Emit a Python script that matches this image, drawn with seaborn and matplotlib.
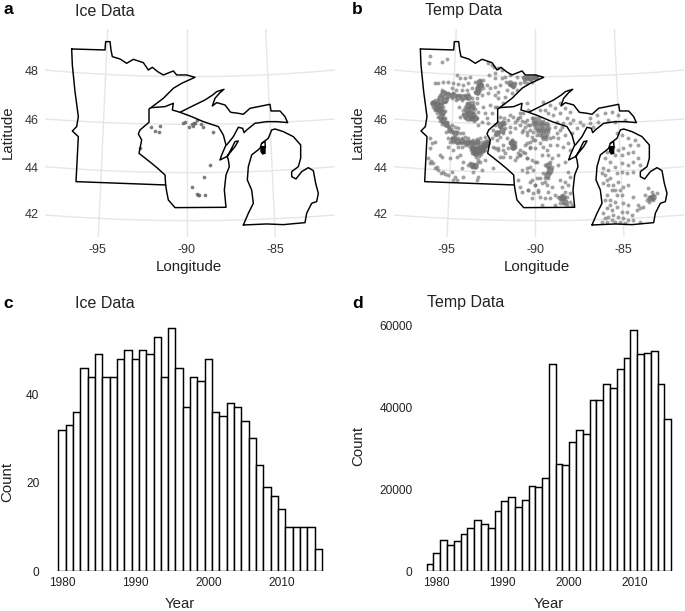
#!/usr/bin/env python3
import numpy as np
import pandas as pd
import matplotlib
matplotlib.use("Agg")
import matplotlib.pyplot as plt
import seaborn as sns

W, H = 685, 611

# state outlines, map units (3 units = 1 pixel)
minnesota = [(215,147),(315,150),(317,125),(330,125),(333,150),(337,170),(360,177),(380,190),(400,178),(430,188),(445,210),
             (457,202),(473,215),(490,225),(520,213),(530,225),(560,225),(585,232),(545,250),(520,265),(490,295),(453,323),
             (447,327),(447,367),(420,390),(415,402),(425,420),(417,460),(455,490),(473,505),(495,525),(497,555),(228,545),
             (235,410),(217,393),(230,380),(235,350),(225,275),(217,195),(215,147)]
wisconsin = [(453,323),(495,320),(520,310),(517,330),(540,337),(570,348),(610,365),(655,380),(670,405),(678,435),
             (665,465),(660,480),(680,470),(705,440),(715,423),(705,425),(695,445),(682,470),(685,480),(688,500),(678,525),
             (673,570),(678,622),(525,623),(505,600),(500,575),(497,555)]
upper_mi = [(540,337),(580,317),(615,300),(638,285),(650,275),(672,268),(660,278),(645,295),(637,318),(650,308),
            (675,315),(692,337),(715,340),(730,343),(750,325),(775,320),(810,313),(813,333),(840,333),(855,350),
            (863,368),(830,365),(800,365),(765,370),(740,390),(732,398),(728,385),(715,382),(708,395),(700,410),(680,435)]
lower_mi = [(730,675),(745,640),(760,610),(755,570),(742,540),(745,500),(755,465),(780,445),(785,430),(805,415),(815,390),
            (825,387),(850,395),(880,410),(902,435),(902,475),(895,500),(875,515),(875,530),(888,537),(905,515),(925,503),
            (940,512),(947,550),(955,580),(950,605),(935,610),(920,640),(915,668),(850,674),(800,672),(730,675)]
lake_blob = [(783,440),(795,440),(795,460),(788,462),(783,455),(783,440)]
lake_line = [(785,430),(795,425),(796,442)]

# graticule
lat_ticks = [48, 46, 44, 42]
lat_edge = [210, 357, 500, 645]
lat_mid = [230, 373, 518, 662]
lat_label_y = [212, 358, 502, 642]
lon_ticks = [-95, -90, -85]
lon_top = [323, 560, 797]
lon_bottom = [295, 560, 826]
lon_label_x = [293, 560, 825]

# ice stations
ice_x = [452,465,476,479,421,550,555,568,575,578,582,585,590,603,608,640,630,612,575,590,594,597,616]
ice_y = [380,393,395,378,445,368,365,381,372,378,370,368,360,372,380,396,494,532,560,583,586,586,584]

# temperature stations, west half of panel b
temp_west = [
    (30,62),(28,83),(65,82),(82,72),
    (205,85),(215,90),(222,95),(235,100),(245,105),(207,120),(225,115),(255,125),(270,120),(245,130),(225,130),(290,125),
    (310,125),(325,125),(340,125),(350,125),(318,130),(330,132),(345,130),(312,140),(322,145),(335,140),(300,145),(285,145),
    (270,150),(280,155),(258,140),(240,150),(225,155),(235,170),(260,165),(290,165),(275,175),(255,185),(235,190),(248,205),(230,215),
    (45,145),(55,145),(70,140),(85,142),(110,120),(120,130),(135,128),(150,125),(100,145),(115,148),(130,150),(145,145),
    (165,140),(180,135),(190,135),(175,150),(185,150),(170,160),(180,165),(190,160),(165,170),(175,175),(185,180),(200,150),
    (210,160),(205,175),(225,180),(95,160),(108,165),(125,165),(140,165),(155,160),
    (65,165),(75,170),(85,175),(100,175),(110,180),(120,180),(135,180),(145,178),(70,185),(60,180),(80,190),(95,190),
    (108,195),(125,195),(140,190),(155,190),(170,190),(45,195),(38,200),(55,195),(65,200),(75,200),
    (35,205),(45,205),(55,205),(65,205),(40,215),(50,215),(60,215),(70,215),(45,225),(55,225),(65,225),(75,228),(50,235),
    (60,235),(70,238),(55,245),(65,248),(75,250),(60,258),(70,260),(80,260),(65,268),(78,270),(88,272),
    (150,200),(160,200),(140,205),(150,210),(160,210),(170,205),(135,215),(145,220),(155,220),(165,222),(130,225),(140,230),
    (150,230),(160,232),(175,230),(130,238),(140,240),(150,242),(160,245),(170,248),(135,250),(150,252),(162,258),(120,245),
    (118,215),(190,215),(210,210),(225,215),(195,235),(215,235),(200,250),(185,260),(175,270),(205,265),
    (85,275),(95,270),(105,275),(115,280),(90,285),(100,290),(110,290),(120,295),(130,295),(78,290),(85,310),(95,310),
    (105,305),(115,310),(125,310),(135,305),(145,310),(90,320),(100,320),(110,325),(120,325),(130,320),(140,320),(150,318),
    (160,315),(170,312),(180,310),(195,305),(115,335),(125,335),(135,330),(145,330),(155,325),(165,325),(175,322),(185,320),
    (195,318),(205,315),
    (150,335),(158,338),(166,335),(174,332),(182,330),(190,328),(198,325),(204,322),(152,345),(160,348),(168,345),(176,342),
    (184,340),(192,337),(200,333),(156,355),(164,358),(172,355),(180,352),(188,348),(196,344),(168,365),(176,362),(184,358),
    (155,340),(163,342),(171,340),(179,337),(187,334),(195,330),(160,352),(168,352),(176,349),(184,346),
    (30,310),(35,325),(30,340),(45,320),(60,360),(65,365),(85,335),(98,345),(110,365),(120,360),(130,380),(90,370),(25,370),
    (32,378),(40,385),(50,395),(55,405),(70,410),(85,420),(30,385),(45,400),(62,415),(75,418),(95,410),(105,425),(110,435),
    (100,435),(125,400),(130,425),(170,435),(175,425),(160,410),(150,385),(160,390),(170,385),(155,395),(165,395),(175,375),
    (180,380),(145,390),(185,405),(220,400),(195,375),(235,345),(225,340),(250,345),(250,365),(240,365),
    (240,245),(252,250),(270,240),(300,235),(280,245),(295,250),(265,255),(285,262),(305,258),(320,255),(235,260),(250,265),
    (225,270),(240,275),(255,280),(270,275),(285,280),(300,270),(315,275),(330,270),(220,285),(235,290),(250,295),(270,290),
    (225,300),(240,305),(215,310),(230,315),(260,310),(275,315),(285,320),(270,325),(280,330),(275,340),(285,335),(320,325),
    (330,320),(340,315),(310,285),(320,290),(340,290),(350,300),(300,345),(315,355),(330,340),(290,365),(300,360),(320,370),
    (345,380),(330,395),(320,400),(350,430),(330,440),(345,450),(325,465),(355,470),(375,440),(385,470),
]

# temperature stations, east half of panel b
temp_east = [
    (130,85),(138,85),(146,85),(128,92),(135,92),(142,92),(150,92),(158,92),(128,99),(135,99),(142,99),(149,99),(156,99),
    (163,99),(170,99),(132,106),(139,106),(146,106),(153,106),(160,106),(167,106),(174,106),(135,113),(142,113),(149,113),
    (156,113),(163,113),(170,113),(178,113),(140,120),(147,120),(154,120),(161,120),(168,120),(175,120),(145,127),(152,127),
    (159,127),(166,127),(173,127),(150,134),(157,134),(164,134),(171,134),(155,141),(162,141),(169,141),(160,148),(168,148),
    (110,40),(115,60),(125,85),(100,70),(90,80),(80,90),(105,95),(115,105),(120,120),(95,125),(110,135),(125,140),(135,150),
    (150,160),(180,145),(190,140),(200,130),(210,120),(195,110),(215,110),(205,145),(225,135),(235,160),(220,170),(240,180),
    (200,165),(180,165),(160,170),(135,175),(120,170),(105,165),(100,185),(85,190),(65,150),(70,160),(60,155),(75,165),(70,175),
    (55,175),(40,165),(25,175),(10,170),(45,190),(60,200),(75,210),(90,195),(110,205),(125,210),(140,215),(155,195),(170,180),
    (175,195),(185,205),(180,215),(165,225),(175,235),(185,230),(170,245),(180,250),(160,250),(150,265),(165,265),(175,265),
    (155,280),(170,285),(185,290),(125,270),(135,285),(145,300),(115,300),(95,305),(85,270),(90,290),(130,310),(150,320),
    (165,325),(195,315),(210,270),(235,245),(225,275),(235,285),(215,290),(225,305),(215,315),(205,320),(212,328),(222,325),
    (232,320),(240,310),(210,340),(220,340),(230,345),(240,335),(245,345),(195,345),(180,325),(125,325),(155,345),(240,260),
    (205,225),(225,215),(205,195),(130,240),(110,245),(95,240),
    (160,35),(180,45),(195,55),(210,40),(225,55),(240,65),(190,75),(175,70),(150,60),(165,60),(210,70),(230,85),(250,90),
    (270,95),(300,85),(320,75),(345,70),(365,65),(385,75),(355,90),(325,95),(300,100),(280,105),(240,100),(220,100),(200,95),
    (260,115),(245,130),(310,110),(375,95),(405,90),
    (380,130),(395,135),(415,145),(435,150),(445,165),(420,165),(400,175),(385,180),(370,170),(350,185),(345,205),(360,215),
    (375,195),(395,195),(415,190),(430,185),(445,205),(430,215),(415,225),(395,220),(375,230),(355,240),(340,235),(335,250),
    (345,255),(350,270),(360,265),(380,250),(395,245),(410,250),(430,245),(450,225),(340,280),(355,285),(370,285),(385,275),
    (400,290),(415,285),(365,300),(375,300),(390,300),(380,315),(395,315),(430,320),(350,315),(345,330),(360,330),(375,335),
    (400,340),(415,345),(445,345),(460,350),(470,330),(480,320),(490,330),(478,335),(490,315),(475,295),(485,305),(500,310),
    (465,315),(360,345),(350,355),(365,360),(380,350),(395,365),(410,365),(425,375),(440,360),(450,355),(340,370),(345,385),
    (355,380),(370,375),(385,380),(400,385),(415,390),(335,395),(350,395),(365,390),(375,395),(390,395),(405,400),(430,390),
    (450,395),
]

# heavier clusters where stations pile up in panel b
temp_dense_west = [
    (40,205),(50,208),(60,210),(47,218),(57,222),(65,232),(62,245),(70,255),(78,268),(90,285),(105,295),(98,312),(110,318),
    (125,318),(140,322),(155,325),(170,320),(70,175),(85,180),(100,180),(115,185),(130,185),(145,185),(175,160),(180,150),
    (170,170),(178,140),(60,190),(75,195),(145,210),(155,215),(140,225),(150,235),(160,240),(135,240),(145,248),(155,250),
    (165,250),(160,340),(170,345),(180,340),(190,335),(165,355),(175,350),(185,345),(195,330),(200,325),(155,390),(165,392),
    (315,130),(330,128),(345,127),(280,150),(270,145),(240,270),(230,295),(250,265),(275,325),(280,335),(245,285),
]
temp_dense_east = [(175,225),(180,240),(170,255),(212,325),(225,335),(220,320),(480,325),(490,320)]

# yearly counts
ice_counts = [32,33,36,46,44,49,44,44,48,50,48,50,49,53,44,55,46,37,44,43,48,36,35,38,37,34,30,24,19,17,14,10,10,10,10,5]
ice_years = list(range(1980, 2016))
temp_counts = [1700,4300,7600,6400,7400,9000,10500,12500,11400,10600,14700,17000,18000,15500,17400,20700,20400,22800,
               50600,26100,25800,31500,34400,33500,41800,41800,45700,44700,49300,51900,58800,52900,53200,53700,45500,37000]
hist_ticks = [1980, 1990, 2000, 2010]
ice_yticks = [0, 20, 40]
temp_yticks = [0, 20000, 40000, 60000]

sns.set_theme(style="white")
plt.rcParams["font.family"] = ["Liberation Sans", "DejaVu Sans"]
TICK = "#333333"

fig = plt.figure(figsize=(W / 100, H / 100), dpi=100)


def px_axes(left, top, right, bottom):
    return fig.add_axes([left / W, 1 - bottom / H, (right - left) / W, (bottom - top) / H])


def ftext(x, y, s, **kw):
    fig.text(x / W, 1 - y / H, s, va="center", **kw)


def draw_map(ax):
    xs = np.linspace(135, 1005, 60)
    for e, m in zip(lat_edge, lat_mid):
        ax.plot(xs, m + (e - m) * ((xs - 570) / 435) ** 2, color="#e6e6e6", lw=1, zorder=1)
    for t, b in zip(lon_top, lon_bottom):
        ax.plot([t, b], [88, 712], color="#e6e6e6", lw=1, zorder=1)
    ax.set_xlim(135, 1005)
    ax.set_ylim(712, 88)
    ax.set_xticks(lon_label_x, [str(v) for v in lon_ticks])
    ax.set_yticks(lat_label_y, [str(v) for v in lat_ticks])
    ax.tick_params(length=0, labelsize=9, labelcolor=TICK, pad=4.5)
    ax.set_xlabel("")
    ax.set_ylabel("")
    sns.despine(ax=ax, left=True, bottom=True)


def draw_outlines(ax):
    for shape in [minnesota, wisconsin, upper_mi, lower_mi, lake_line]:
        sx, sy = zip(*shape)
        ax.plot(sx, sy, color="black", lw=1.05, zorder=4, solid_joinstyle="round")
    bx, by = zip(*lake_blob)
    ax.fill(bx, by, color="black", zorder=5)


def to_frame(west, east):
    return pd.DataFrame([(x + 214, y + 105) for x, y in west] + [(x + 424, y + 270) for x, y in east], columns=["x", "y"])


# panel a
ax_a = px_axes(45, 29.3, 335, 237.3)
draw_outlines(ax_a)
sns.scatterplot(x=ice_x, y=ice_y, ax=ax_a, color="#666666", s=7, linewidth=0, alpha=0.85, zorder=3)
draw_map(ax_a)

# panel b
shift = 348.67
ax_b = px_axes(45 + shift, 29.3, 335 + shift, 237.3)
draw_outlines(ax_b)
sns.scatterplot(data=to_frame(temp_west, temp_east), x="x", y="y", ax=ax_b, color="#707070", s=8, linewidth=0, alpha=0.65, zorder=3)
sns.scatterplot(data=to_frame(temp_dense_west, temp_dense_east), x="x", y="y", ax=ax_b, color="#707070", s=22, linewidth=0, alpha=0.8, zorder=3)
draw_map(ax_b)

# panel c
left, right = 45, 335
to_year = lambda p: 1980 + (p - 62) / 7.32
ax_c = px_axes(left, 325, right, 571)
sns.histplot(x=ice_years, weights=ice_counts, discrete=True, ax=ax_c, color="white", edgecolor="black", linewidth=1.05, alpha=1)
ax_c.set_xlim(to_year(left), to_year(right))
ax_c.set_ylim(0, 246 / 4.42)
ax_c.set_xticks(hist_ticks)
ax_c.set_yticks(ice_yticks)

# panel d
left, right = 418, 680
to_year = lambda p: 1980 + (p - 436.7) / 6.6
ax_d = px_axes(left, 325, right, 571)
temp_years = 1979 + np.arange(36) * 36 / 35
sns.histplot(x=temp_years, weights=temp_counts, bins=36, binrange=(1979 - 18 / 35, 2015 + 18 / 35), ax=ax_d,
             color="white", edgecolor="black", linewidth=1.05, alpha=1)
ax_d.set_xlim(to_year(left), to_year(right))
ax_d.set_ylim(0, 246 * 60000 / 248.7)
ax_d.set_xticks(hist_ticks)
ax_d.set_yticks(temp_yticks)

for ax in [ax_c, ax_d]:
    ax.tick_params(length=0, labelsize=8.6, labelcolor="#222222", pad=4)
    ax.set_xlabel("")
    ax.set_ylabel("")
    ax.patch.set_alpha(0)
    sns.despine(ax=ax, left=True, bottom=True)

# titles, axis labels, panel letters
LAB = dict(fontsize=10.8, ha="center", color="#222222")
for x, y, s in [(75, 11, "Ice Data"), (425, 11, "Temp Data"), (75, 304, "Ice Data"), (426.7, 303, "Temp Data")]:
    ftext(x, y, s, fontsize=11.5, ha="left", color="#222222")
for x, y, s in [(3, 10, "a"), (352, 10, "b"), (3, 303, "c"), (352, 303, "d")]:
    ftext(x, y, s, fontsize=12.5, ha="left", fontweight="bold", color="black")
for x, y, s in [(189, 267, "Longitude"), (537, 267, "Longitude"), (180, 604, "Year"), (549, 604, "Year")]:
    ftext(x, y, s, **LAB)
for x, y, s in [(8, 132, "Latitude"), (357.5, 132, "Latitude"), (7, 482, "Count"), (358, 446, "Count")]:
    ftext(x, y, s, rotation=90, **LAB)

fig.savefig("out.png", dpi=100)
